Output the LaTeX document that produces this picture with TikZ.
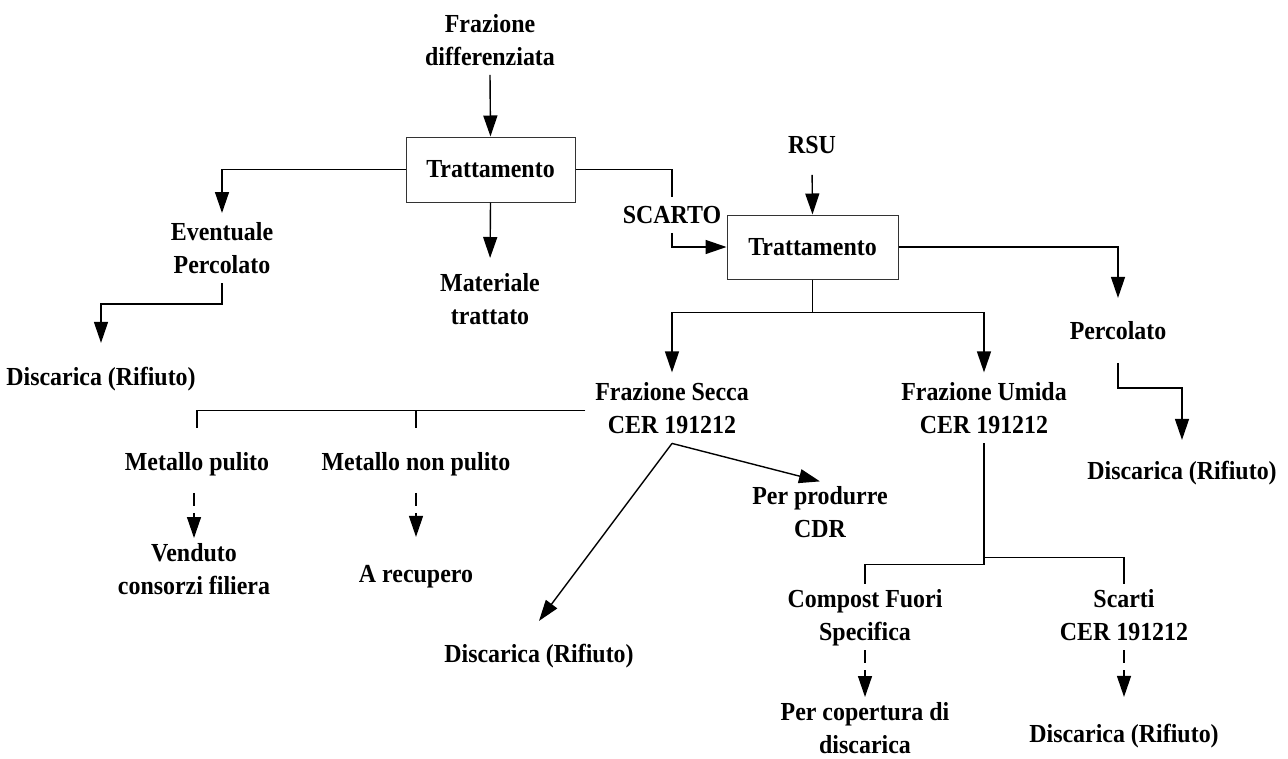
\documentclass[tikz,border=0pt]{standalone}
\usepackage{fontspec}
\setmainfont{Liberation Serif}[FakeStretch=0.92]
\usetikzlibrary{arrows.meta}
\begin{document}
\begin{tikzpicture}[x=1pt,y=-1pt,
  lbl/.style={font=\fontsize{26}{33}\selectfont\bfseries, align=center, inner sep=0pt, outer sep=0pt},
  procbox/.style={draw=black!80, line width=1pt, minimum width=169pt, minimum height=65pt,
    inner sep=0pt, font=\fontsize{26}{33}\selectfont\bfseries},
  flow/.style={line width=1.4pt},
  arr/.style={flow, -{Triangle[length=21pt,width=14pt]}},
  darr/.style={arr, dash pattern=on 13pt off 7pt}]
\useasboundingbox[fill=white] (0,0) rectangle (1288,758);

% first treatment line
\node[lbl] (fd) at (490,41.9) {Frazione\strut\\differenziata\strut};
\node[procbox] (t1) at (490.5,169.5) {Trattamento};
\node[lbl] (ep) at (222,250) {Eventuale\strut\\Percolato\strut};
\node[lbl] (d1) at (101,378.4) {Discarica (Rifiuto)\strut};
\node[lbl] (mt) at (490,301) {Materiale\strut\\trattato\strut};
\node[lbl] (sc) at (672,216.4) {SCARTO\strut};

% second treatment line
\node[lbl] (rsu) at (812,146.4) {RSU\strut};
\node[procbox, minimum width=171pt, minimum height=64pt] (t2) at (812.5,247) {Trattamento};
\node[lbl] (pc) at (1118,332.4) {Percolato\strut};
\node[lbl] (d2) at (1182,472.4) {Discarica (Rifiuto)\strut};
\node[lbl] (fs) at (672,410.4) {Frazione Secca\strut\\CER 191212\strut};
\node[lbl] (fu) at (984,410.4) {Frazione Umida\strut\\CER 191212\strut};

% dry fraction outputs
\node[lbl] (mp) at (197,463.4) {Metallo pulito\strut};
\node[lbl] (mn) at (416,463.4) {Metallo non pulito\strut};
\node[lbl] (vc) at (194,571) {Venduto\strut\\consorzi filiera\strut};
\node[lbl] (ar) at (416,575.4) {A recupero\strut};
\node[lbl] (cdr) at (820,514.4) {Per produrre\strut\\CDR\strut};
\node[lbl] (d3) at (539,655.4) {Discarica (Rifiuto)\strut};

% wet fraction outputs
\node[lbl] (cf) at (865,617) {Compost Fuori\strut\\Specifica\strut};
\node[lbl] (sca) at (1124,617) {Scarti\strut\\CER 191212\strut};
\node[lbl] (pcd) at (865,730) {Per copertura di\strut\\discarica\strut};
\node[lbl] (d4) at (1124,735.4) {Discarica (Rifiuto)\strut};

% connectors
\draw[arr] (fd.south) -- (t1.north);
\draw[arr, shorten >=4pt] (t1.west) -| (ep.north);
\draw[arr, shorten >=19pt] (ep.south) -- ++(0,21) -| (d1.north);
\draw[arr, shorten >=10pt] (t1.south) -- (mt.north);
\draw[flow, shorten >=3pt] (t1.east) -| (sc.north);
\draw[arr] (sc.south) |- (t2.west);
\draw[arr, shorten <=12pt] (rsu.south) -- (t2.north);
\draw[arr, shorten >=18pt] (t2.east) -| (pc.north);
\draw[arr, shorten <=14pt, shorten >=16pt] (pc.south) -- ++(0,39) -| (d2.north);
\draw[arr, shorten >=5pt] (t2.south) -- ++(0,33) -| (fs.north);
\draw[arr, shorten >=5pt] (t2.south) ++(0,33) -| (fu.north);
\draw[flow, shorten <=10pt, shorten >=19pt] (fs.west) -| (mp.north);
\draw[flow, shorten >=19pt] (fs.west -| mn.north) -- (mn.north);
\draw[arr] (fs.south) -- (cdr.north);
\draw[arr] (fs.south) -- ([yshift=18pt]d3.north);
\draw[darr, shorten <=13pt] (vc.north |- mp.south) -- (vc.north);
\draw[darr, shorten <=13pt, shorten >=22pt] (mn.south) -- (ar.north);
\draw[flow] (fu.south) -- ++(0,121) -| (cf.north);
\draw[flow] (fu.south) ++(0,114) -| (sca.north);
\draw[darr] (cf.south) -- (pcd.north);
\draw[darr, shorten >=22pt] (sca.south) -- (d4.north);
\end{tikzpicture}
\end{document}
